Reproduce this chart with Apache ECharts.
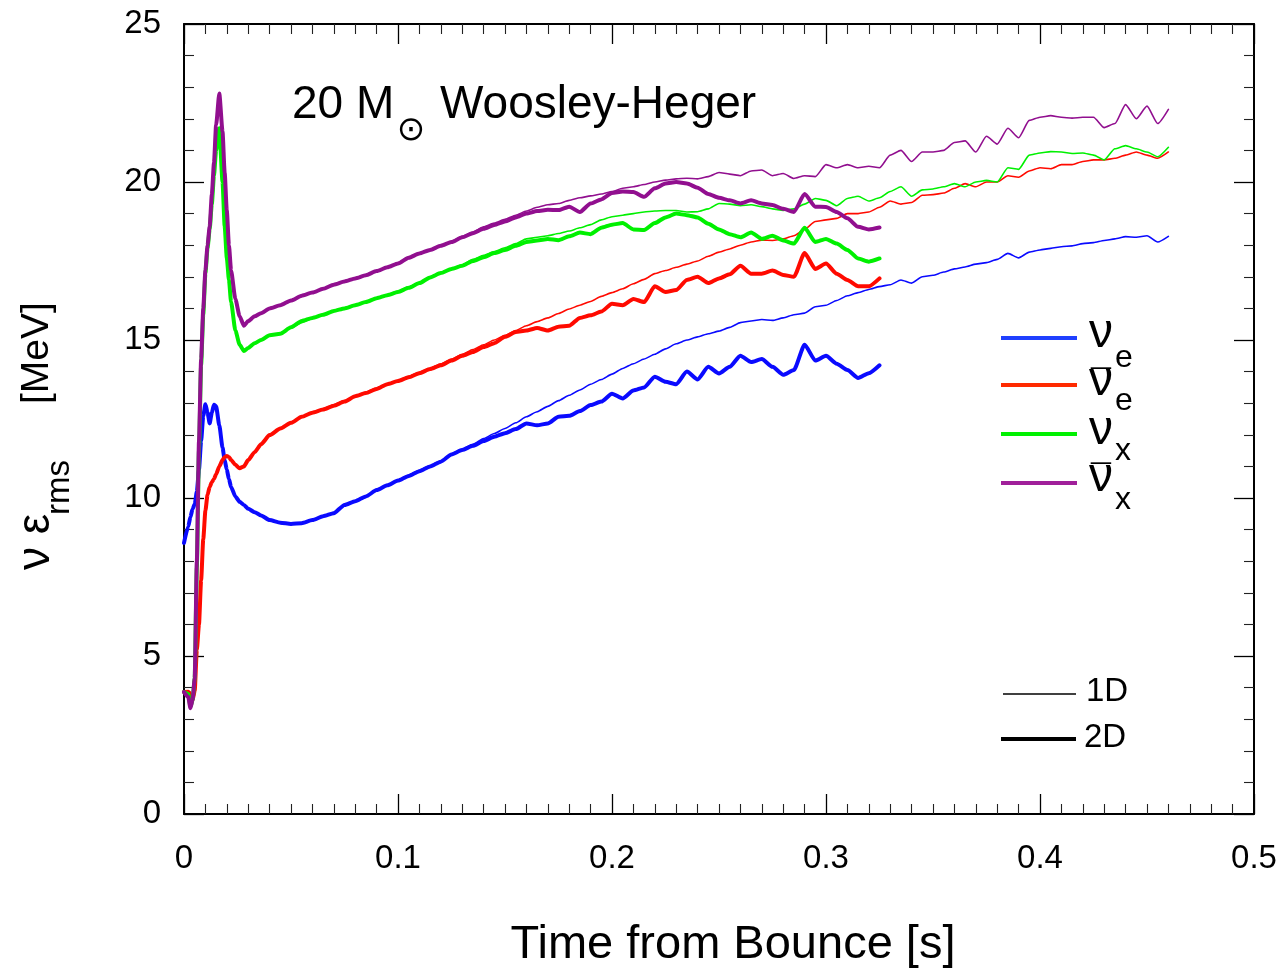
<!DOCTYPE html>
<html>
<head>
<meta charset="utf-8">
<script src="https://cdn.jsdelivr.net/npm/echarts@6/dist/echarts.min.js"></script>
<style>
html,body{margin:0;padding:0;background:#fff;}
#chart{width:1282px;height:975px;}
</style>
</head>
<body>
<div id="chart"></div>
<script>
// ---------------- DATA ----------------
// time grid (s) shared by the 2D runs
const tEarly = [0, 0.002, 0.003, 0.004, 0.005, 0.006, 0.007, 0.008, 0.009, 0.010, 0.011, 0.012, 0.013, 0.014, 0.015, 0.0165, 0.018, 0.019, 0.020, 0.021, 0.022, 0.024, 0.026, 0.028, 0.030, 0.033, 0.036, 0.040];
const tMid = [0.045, 0.050, 0.055, 0.060, 0.065, 0.070, 0.075, 0.080, 0.085, 0.090, 0.095, 0.100, 0.105, 0.110, 0.115, 0.120, 0.125,
  0.130, 0.135, 0.140, 0.145, 0.150, 0.155, 0.160, 0.165, 0.170, 0.175, 0.180, 0.185, 0.190, 0.195, 0.200, 0.205, 0.210, 0.215, 0.220, 0.225,
  0.230, 0.235, 0.240, 0.245, 0.250, 0.255, 0.260, 0.265, 0.270, 0.275, 0.280, 0.285, 0.290, 0.295, 0.300, 0.305, 0.310, 0.315, 0.320, 0.325];
const tLate = [0.330, 0.335, 0.340, 0.345, 0.350, 0.355, 0.360, 0.365, 0.370, 0.375, 0.380, 0.385, 0.390, 0.395, 0.400, 0.405, 0.410, 0.415, 0.420, 0.425, 0.430, 0.435, 0.440, 0.445, 0.450, 0.455, 0.460];

// early post-bounce values (1D and 2D coincide)
const nueEarly   = [8.58, 9.1, 9.4, 9.65, 9.8, 10.2, 10.9, 11.8, 12.6, 12.97, 12.7, 12.36, 12.7, 12.95, 12.9, 12.3, 11.6, 11.2, 10.9, 10.6, 10.35, 10.05, 9.88, 9.78, 9.66, 9.55, 9.45, 9.3];
const anueEarly  = [3.86, 3.87, 3.8, 3.6, 3.9, 5.2, 6.0, 7.4, 8.7, 9.6, 10.1, 10.35, 10.5, 10.6, 10.75, 11.0, 11.2, 11.3, 11.33, 11.3, 11.2, 11.05, 10.94, 11.0, 11.2, 11.45, 11.7, 11.99];
const nuxEarly   = [3.86, 3.8, 3.4, 3.6, 4.3, 7.8, 11.5, 14.2, 15.8, 17.1, 17.9, 18.5, 19.3, 20.2, 21.0, 21.7, 20.0, 18.6, 17.6, 16.9, 16.2, 15.3, 14.85, 14.65, 14.75, 14.9, 15.0, 15.15];
const anuxEarly  = [3.86, 3.7, 3.35, 3.6, 4.3, 8.0, 11.8, 14.4, 16.0, 17.2, 18.0, 18.6, 19.6, 20.6, 21.8, 22.8, 21.6, 20.3, 19.1, 18.0, 17.2, 16.3, 15.75, 15.45, 15.6, 15.75, 15.85, 16.0];

// 2D runs, t = 0.045 ... 0.325
const nue2D  = [9.22, 9.18, 9.2, 9.3, 9.42, 9.52, 9.78, 9.9, 10.05, 10.25, 10.4, 10.55, 10.7, 10.85, 11.0, 11.15, 11.38,
  11.52, 11.65, 11.8, 11.94, 12.05, 12.18, 12.36, 12.3, 12.36, 12.57, 12.6, 12.75, 12.94, 13.05, 13.3, 13.15, 13.4, 13.5, 13.84, 13.68,
  13.6, 14.0, 13.75, 14.15, 13.94, 14.15, 14.5, 14.3, 14.4, 14.15, 13.9, 14.05, 14.85, 14.35, 14.5, 14.25, 14.05, 13.8, 13.95, 14.2];
const anue2D = [12.2, 12.38, 12.57, 12.7, 12.8, 12.92, 13.05, 13.22, 13.32, 13.45, 13.6, 13.7, 13.82, 13.95, 14.08, 14.2, 14.35,
  14.5, 14.62, 14.78, 14.9, 15.1, 15.25, 15.3, 15.38, 15.3, 15.42, 15.45, 15.7, 15.78, 15.9, 16.15, 16.1, 16.3, 16.2, 16.7, 16.52,
  16.58, 16.9, 17.0, 16.8, 16.95, 17.08, 17.35, 17.1, 17.1, 17.2, 17.06, 17.0, 17.75, 17.25, 17.42, 17.1, 16.9, 16.7, 16.7, 16.95];
const nux2D  = [15.2, 15.4, 15.6, 15.7, 15.8, 15.92, 16.0, 16.1, 16.2, 16.32, 16.42, 16.52, 16.65, 16.8, 16.98, 17.12, 17.25,
  17.35, 17.5, 17.62, 17.75, 17.85, 17.98, 18.1, 18.15, 18.2, 18.16, 18.28, 18.4, 18.35, 18.55, 18.65, 18.7, 18.5, 18.48, 18.7, 18.88,
  19.0, 18.95, 18.88, 18.68, 18.5, 18.35, 18.25, 18.4, 18.2, 18.3, 18.15, 18.05, 18.55, 18.1, 18.2, 18.05, 17.85, 17.58, 17.48, 17.58];
const anux2D = [16.1, 16.25, 16.4, 16.5, 16.62, 16.75, 16.85, 16.95, 17.05, 17.18, 17.3, 17.42, 17.6, 17.74, 17.85, 17.98, 18.1,
  18.25, 18.38, 18.52, 18.64, 18.75, 18.88, 19.0, 19.08, 19.12, 19.11, 19.22, 19.05, 19.32, 19.45, 19.65, 19.7, 19.68, 19.53, 19.8, 19.95,
  20.0, 19.95, 19.82, 19.62, 19.5, 19.42, 19.32, 19.42, 19.32, 19.27, 19.15, 19.05, 19.62, 19.22, 19.21, 19.05, 18.85, 18.58, 18.5, 18.56];

// 1D runs, t = 0.045 ... 0.460
const nue1D  = [9.22, 9.18, 9.2, 9.3, 9.42, 9.55, 9.75, 9.9, 10.05, 10.25, 10.4, 10.55, 10.72, 10.88, 11.02, 11.18, 11.38,
  11.55, 11.7, 11.88, 12.04, 12.2, 12.38, 12.57, 12.73, 12.9, 13.08, 13.25, 13.42, 13.6, 13.75, 13.92, 14.1, 14.25, 14.4, 14.55, 14.72,
  14.88, 15.0, 15.1, 15.2, 15.28, 15.4, 15.55, 15.6, 15.65, 15.62, 15.7, 15.8, 15.85, 16.05, 16.1, 16.25, 16.4, 16.5, 16.6, 16.69,
  16.75, 16.9, 16.8, 17.0, 17.05, 17.15, 17.25, 17.31, 17.4, 17.45, 17.55, 17.74, 17.6, 17.78, 17.85, 17.9, 17.95, 17.98, 18.05, 18.08,
  18.15, 18.2, 18.27, 18.25, 18.3, 18.1, 18.28];
const anue1D = [12.2, 12.4, 12.57, 12.7, 12.82, 12.95, 13.08, 13.22, 13.35, 13.48, 13.6, 13.72, 13.85, 13.98, 14.1, 14.25, 14.4,
  14.55, 14.7, 14.85, 15.0, 15.15, 15.3, 15.45, 15.58, 15.7, 15.84, 15.98, 16.1, 16.22, 16.38, 16.5, 16.62, 16.78, 16.92, 17.1, 17.2,
  17.3, 17.4, 17.5, 17.65, 17.78, 17.88, 18.0, 18.1, 18.16, 18.15, 18.2, 18.3, 18.5, 18.75, 18.8, 18.85, 19.0, 19.0, 19.05, 19.2,
  19.4, 19.3, 19.35, 19.58, 19.6, 19.65, 19.8, 19.95, 19.85, 20.0, 20.0, 20.2, 20.15, 20.35, 20.45, 20.42, 20.55, 20.55, 20.65, 20.7,
  20.7, 20.75, 20.85, 20.95, 20.85, 20.75, 20.95];
const nux1D  = [15.2, 15.38, 15.55, 15.68, 15.8, 15.92, 16.02, 16.12, 16.22, 16.32, 16.44, 16.55, 16.68, 16.82, 16.98, 17.12, 17.26,
  17.38, 17.55, 17.68, 17.8, 17.92, 18.05, 18.2, 18.25, 18.3, 18.37, 18.45, 18.55, 18.65, 18.8, 18.9, 18.95, 19.0, 19.05, 19.08, 19.1,
  19.1, 19.05, 19.06, 19.15, 19.32, 19.3, 19.25, 19.28, 19.22, 19.15, 19.1, 19.15, 19.3, 19.48, 19.42, 19.25, 19.48, 19.55, 19.4, 19.5,
  19.7, 19.85, 19.55, 19.75, 19.78, 19.85, 19.95, 19.85, 20.0, 20.05, 20.0, 20.45, 20.4, 20.85, 20.92, 20.96, 20.95, 20.9, 20.92, 20.85,
  20.7, 21.05, 21.15, 21.05, 20.95, 20.8, 21.1];
const anux1D = [16.1, 16.25, 16.38, 16.5, 16.62, 16.75, 16.86, 16.96, 17.06, 17.18, 17.3, 17.44, 17.6, 17.74, 17.86, 17.98, 18.12,
  18.28, 18.42, 18.58, 18.7, 18.82, 18.95, 19.08, 19.2, 19.28, 19.32, 19.42, 19.5, 19.56, 19.62, 19.7, 19.8, 19.85, 19.92, 20.0, 20.06,
  20.1, 20.12, 20.1, 20.17, 20.3, 20.25, 20.2, 20.35, 20.38, 20.2, 20.27, 20.11, 20.2, 20.17, 20.55, 20.45, 20.55, 20.45, 20.5, 20.45,
  20.85, 21.0, 20.65, 20.95, 20.95, 21.0, 21.25, 21.3, 20.95, 21.45, 21.2, 21.7, 21.4, 21.95, 22.05, 22.1, 22.05, 22.02, 22.05, 22.05,
  21.72, 21.85, 22.45, 22.0, 22.4, 21.85, 22.3];

const xTicks = [0, 0.1, 0.2, 0.3, 0.4, 0.5];
const yTicks = [0, 5, 10, 15, 20, 25];

// ---------------- CHART ----------------
const BLUE = '#0a0aff', RED = '#ff0a00', GREEN = '#00f000', PURPLE = '#910f8f';
const FONT = '"Liberation Sans", Arial, Helvetica, sans-serif';

const t2D = tEarly.concat(tMid);
const t1D = tEarly.concat(tMid, tLate);
function pairs(t, early, rest) {
  const v = early.concat(rest);
  return t.map((x, i) => [x, v[i]]);
}
function line(name, data, color, width) {
  return {
    name: name, type: 'line', data: data, showSymbol: false, symbol: 'none',
    smooth: 0.2, smoothMonotone: 'x',
    lineStyle: { color: color, width: width, join: 'round', cap: 'round' },
    emphasis: { disabled: true }, z: 2
  };
}

const series = [
  line('nue 1D',  pairs(t1D, nueEarly,  nue1D),  BLUE,   1.6),
  line('nue 2D',  pairs(t2D, nueEarly,  nue2D),  BLUE,   4),
  line('anue 1D', pairs(t1D, anueEarly, anue1D), RED,    1.6),
  line('anue 2D', pairs(t2D, anueEarly, anue2D), RED,    4),
  line('nux 1D',  pairs(t1D, nuxEarly,  nux1D),  GREEN,  1.6),
  line('nux 2D',  pairs(t2D, nuxEarly,  nux2D),  GREEN,  4),
  line('anux 1D', pairs(t1D, anuxEarly, anux1D), PURPLE, 1.6),
  line('anux 2D', pairs(t2D, anuxEarly, anux2D), PURPLE, 4)
];

const axisLine = { show: true, onZero: false, lineStyle: { color: '#000', width: 2 } };
const axisTick = { show: true, inside: true, length: 20, lineStyle: { color: '#000', width: 1.3 } };
function minor(n) { return { show: true, splitNumber: n, length: 10, lineStyle: { color: '#222', width: 1.1 } }; }
function fmt(v) { return String(Math.round(v * 1000) / 1000); }
const labelStyle = { show: true, color: '#000', fontSize: 33, fontFamily: FONT, formatter: fmt };

const option = {
  animation: false,
  backgroundColor: '#fff',
  grid: { left: 184, right: 28, top: 24, bottom: 161, containLabel: false },
  xAxis: [
    {
      type: 'value', position: 'bottom', min: xTicks[0], max: xTicks[xTicks.length - 1], interval: xTicks[1] - xTicks[0],
      axisLine: axisLine, axisTick: axisTick, minorTick: minor(10), splitLine: { show: false }, minorSplitLine: { show: false },
      axisLabel: Object.assign({ margin: 28 }, labelStyle),
      name: 'Time from Bounce [s]', nameLocation: 'middle', nameGap: 108,
      nameTextStyle: { color: '#000', fontSize: 47, fontFamily: FONT, padding: [0, 0, 0, 28] }
    },
    {
      type: 'value', position: 'top', min: xTicks[0], max: xTicks[xTicks.length - 1], interval: xTicks[1] - xTicks[0],
      axisLine: axisLine, axisTick: axisTick, minorTick: minor(10), splitLine: { show: false }, minorSplitLine: { show: false },
      axisLabel: { show: false }
    }
  ],
  yAxis: [
    {
      type: 'value', position: 'left', min: yTicks[0], max: yTicks[yTicks.length - 1], interval: yTicks[1] - yTicks[0],
      axisLine: axisLine, axisTick: axisTick, minorTick: minor(5), splitLine: { show: false }, minorSplitLine: { show: false },
      axisLabel: Object.assign({ margin: 23 }, labelStyle)
    },
    {
      type: 'value', position: 'right', min: yTicks[0], max: yTicks[yTicks.length - 1], interval: yTicks[1] - yTicks[0],
      axisLine: axisLine, axisTick: axisTick, minorTick: minor(5), splitLine: { show: false }, minorSplitLine: { show: false },
      axisLabel: { show: false }
    }
  ],
  series: series,
  graphic: [
    // Title
    { type: 'text', left: 292, top: 82, z: 10, style: { text: '20 M', font: '46px ' + FONT, fill: '#000' } },
    { type: 'text', x: 411, y: 131, z: 10, style: { text: '\u2299', font: '34px "DejaVu Sans", sans-serif', fill: '#000', align: 'center', verticalAlign: 'middle' } },
    { type: 'text', left: 440, top: 82, z: 10, style: { text: 'Woosley-Heger', font: '46px ' + FONT, fill: '#000' } },
    // Y axis name (rotated)
    { type: 'group', x: 45, y: 440, rotation: Math.PI / 2, z: 10, children: [
      { type: 'text', x: -130, y: -9, style: { text: '\u03BD \u03B5', font: '46px ' + FONT, fill: '#000', align: 'left', verticalAlign: 'middle' } },
      { type: 'text', x: -75, y: 15, style: { text: 'rms', font: '33px ' + FONT, fill: '#000', align: 'left', verticalAlign: 'middle' } },
      { type: 'text', x: 36, y: -8, style: { text: '[MeV]', font: '39px ' + FONT, fill: '#000', align: 'left', verticalAlign: 'middle' } }
    ] },
    // species legend
    { type: 'line', z: 10, shape: { x1: 1001, y1: 338, x2: 1077, y2: 338 }, style: { stroke: '#2040ff', lineWidth: 4 } },
    { type: 'line', z: 10, shape: { x1: 1001, y1: 385, x2: 1077, y2: 385 }, style: { stroke: '#ff2a00', lineWidth: 4 } },
    { type: 'line', z: 10, shape: { x1: 1001, y1: 434, x2: 1077, y2: 434 }, style: { stroke: '#00f000', lineWidth: 4 } },
    { type: 'line', z: 10, shape: { x1: 1001, y1: 483, x2: 1077, y2: 483 }, style: { stroke: '#a0209a', lineWidth: 4 } },
    { type: 'text', x: 1089, y: 334, z: 10, style: { text: '\u03BD', font: '48px ' + FONT, fill: '#000', verticalAlign: 'middle' } },
    { type: 'text', x: 1115, y: 358, z: 10, style: { text: 'e', font: '32px ' + FONT, fill: '#000', verticalAlign: 'middle' } },
    { type: 'text', x: 1089, y: 382, z: 10, style: { text: '\u03BD', font: '48px ' + FONT, fill: '#000', verticalAlign: 'middle' } },
    { type: 'text', x: 1101, y: 385, z: 10, style: { text: '\u00AF', font: '36px ' + FONT, fill: '#000', align: 'center', verticalAlign: 'middle' } },
    { type: 'text', x: 1115, y: 401, z: 10, style: { text: 'e', font: '32px ' + FONT, fill: '#000', verticalAlign: 'middle' } },
    { type: 'text', x: 1089, y: 431, z: 10, style: { text: '\u03BD', font: '48px ' + FONT, fill: '#000', verticalAlign: 'middle' } },
    { type: 'text', x: 1115, y: 451, z: 10, style: { text: 'x', font: '32px ' + FONT, fill: '#000', verticalAlign: 'middle' } },
    { type: 'text', x: 1089, y: 478, z: 10, style: { text: '\u03BD', font: '48px ' + FONT, fill: '#000', verticalAlign: 'middle' } },
    { type: 'text', x: 1101, y: 480, z: 10, style: { text: '\u00AF', font: '36px ' + FONT, fill: '#000', align: 'center', verticalAlign: 'middle' } },
    { type: 'text', x: 1115, y: 500, z: 10, style: { text: 'x', font: '32px ' + FONT, fill: '#000', verticalAlign: 'middle' } },
    // 1D / 2D legend
    { type: 'line', z: 10, shape: { x1: 1003, y1: 694, x2: 1076, y2: 694 }, style: { stroke: '#000', lineWidth: 1.5 } },
    { type: 'line', z: 10, shape: { x1: 1001, y1: 739, x2: 1076, y2: 739 }, style: { stroke: '#000', lineWidth: 4 } },
    { type: 'text', x: 1086, y: 692, z: 10, style: { text: '1D', font: '33px ' + FONT, fill: '#000', verticalAlign: 'middle' } },
    { type: 'text', x: 1084, y: 738, z: 10, style: { text: '2D', font: '33px ' + FONT, fill: '#000', verticalAlign: 'middle' } }
  ]
};

const chart = echarts.init(document.getElementById('chart'), null, { renderer: 'canvas' });
chart.setOption(option);
</script>
</body>
</html>
